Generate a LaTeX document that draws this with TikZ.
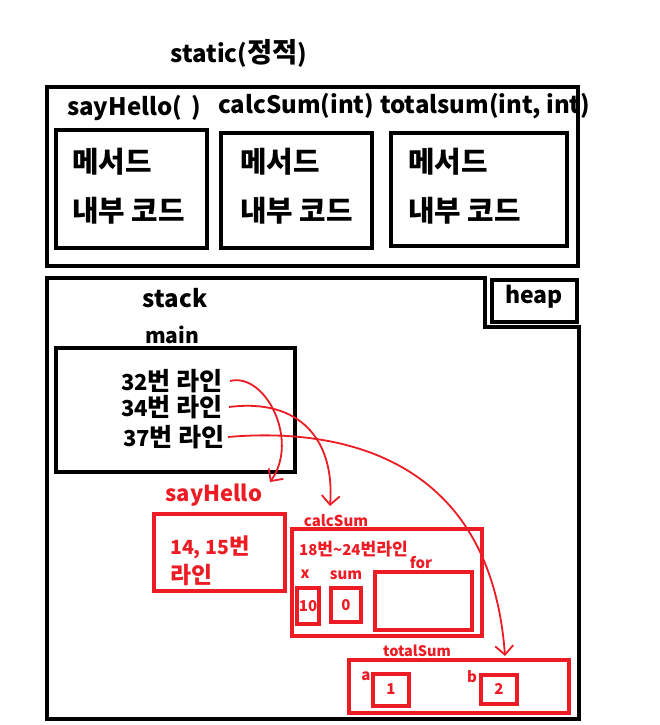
\documentclass[tikz,border=0pt]{standalone}
\usepackage{fontspec}
\setmainfont{Noto Sans CJK KR}
\newfontfamily\kr{Noto Sans CJK KR}[Scale=1.14]
\newfontfamily\krb{Noto Sans CJK KR}[Scale=1.2]
\usetikzlibrary{arrows.meta}
\definecolor{pred}{HTML}{ED1C24}
\newcommand{\fs}[1]{\fontsize{#1}{#1}\selectfont\bfseries}
\begin{document}
\begin{tikzpicture}[x=1pt,y=-1pt,
  blk/.style={draw=black, line width=4.5pt},
  rbox/.style={draw=pred, line width=4pt},
  txt/.style={inner sep=0pt},
  rtxt/.style={inner sep=0pt, text=pred},
  rarr/.style={draw=pred, line width=1.8pt, -{Straight Barb[length=9pt,width=18pt,line width=1.8pt]}}
]
\useasboundingbox (0,0) rectangle (659,725);
\fill[white] (0,0) rectangle (659,725);

% static area
\node[txt, font=\fs{24}] (static) at (239,53) {static({\kr 정적})};
\draw[blk] (47,87) rectangle (578,266);
\node[txt, font=\fs{24}, anchor=west] (sh) at (67,108) {sayHello(\, )};
\node[txt, font=\fs{24}, anchor=west] (cs) at (218,106) {calcSum(int)};
\node[txt, font=\fs{24}, anchor=west] (ts) at (380,106) {totalsum(int, int)};
\draw[blk] (56,130) rectangle (207,248);
\draw[blk] (221,133) rectangle (372,248);
\draw[blk] (391,133) rectangle (567,246);
\foreach \x/\n in {72/a,240/b,408/c}{
  \node[txt, font=\fs{24}\krb, anchor=west] (m\n) at (\x,162) {메서드};
  \node[txt, font=\fs{24}\krb, anchor=west] (k\n) at (\x,211) {내부 코드};
}

% stack area
\draw[blk] (47,278) -- (485,278) -- (485,327) -- (579,327) -- (579,719) -- (47,719) -- cycle;
\draw[blk] (492,280) rectangle (577,322);
\node[txt, font=\fs{23}] (heap) at (534,297) {heap};
\node[txt, font=\fs{24}] (stack) at (175,298) {stack};
\node[txt, font=\fs{21}] (main) at (172,335) {main};
\draw[blk] (56,348) rectangle (295,472);
\node[txt, font=\fs{22}, anchor=east] (l32) at (223,381) {32{\kr 번 라인}};
\node[txt, font=\fs{22}, anchor=east] (l34) at (223,407) {34{\kr 번 라인}};
\node[txt, font=\fs{22}, anchor=east] (l37) at (225,437) {37{\kr 번 라인}};

% sayHello frame
\node[rtxt, font=\fs{22}] (shl) at (214,495) {sayHello};
\draw[rbox] (154,514) rectangle (285,591);
\node[rtxt, font=\fs{19.5}, anchor=west] (sh1) at (170,547) {14, 15{\kr 번}};
\node[rtxt, font=\fs{20}\kr, anchor=west] (sh2) at (170,575) {라인};

% calcSum frame
\node[rtxt, font=\fs{15}] (csl) at (336,521) {calcSum};
\draw[rbox] (292,529) rectangle (482,636);
\node[rtxt, font=\fs{15}, anchor=west] (cst) at (299,549) {18{\kr 번}\textasciitilde24{\kr 번라인}};
\node[rtxt, font=\fs{15}] (xl) at (305,574) {x};
\node[rtxt, font=\fs{15}] (suml) at (346,575) {sum};
\node[rtxt, font=\fs{15}] (forl) at (421,562) {for};
\draw[rbox] (297,588) rectangle (319,624);
\node[rtxt, font=\fs{15}] (xv) at (308,606) {10};
\draw[rbox] (331,588) rectangle (361,622);
\node[rtxt, font=\fs{15}] (sv) at (346,605) {0};
\draw[rbox] (375,572) rectangle (472,630);

% totalSum frame
\node[rtxt, font=\fs{14.5}] (tsl) at (417,651) {totalSum};
\draw[rbox] (349,660) rectangle (569,713);
\node[rtxt, font=\fs{15}] (al) at (366,676) {a};
\draw[rbox] (373,674) rectangle (409,706);
\node[rtxt, font=\fs{15}] (av) at (391,689) {1};
\node[rtxt, font=\fs{15}] (bl) at (472,677) {b};
\draw[rbox] (481,675) rectangle (517,704);
\node[rtxt, font=\fs{15}] (bv) at (499,689) {2};

% arrows
\coordinate (e1) at (270,482);
\coordinate (e2) at (330,506);
\coordinate (e3) at (505,656);
\draw[rarr] ([xshift=7pt]l32.east) .. controls (265,372) and (300,440) .. (e1);
\draw[rarr] ([xshift=6pt]l34.east) .. controls (300,398) and (335,440) .. (e2);
\draw[rarr] ([xshift=3pt]l37.east) .. controls (330,428) and (490,450) .. (e3);
\end{tikzpicture}
\end{document}
